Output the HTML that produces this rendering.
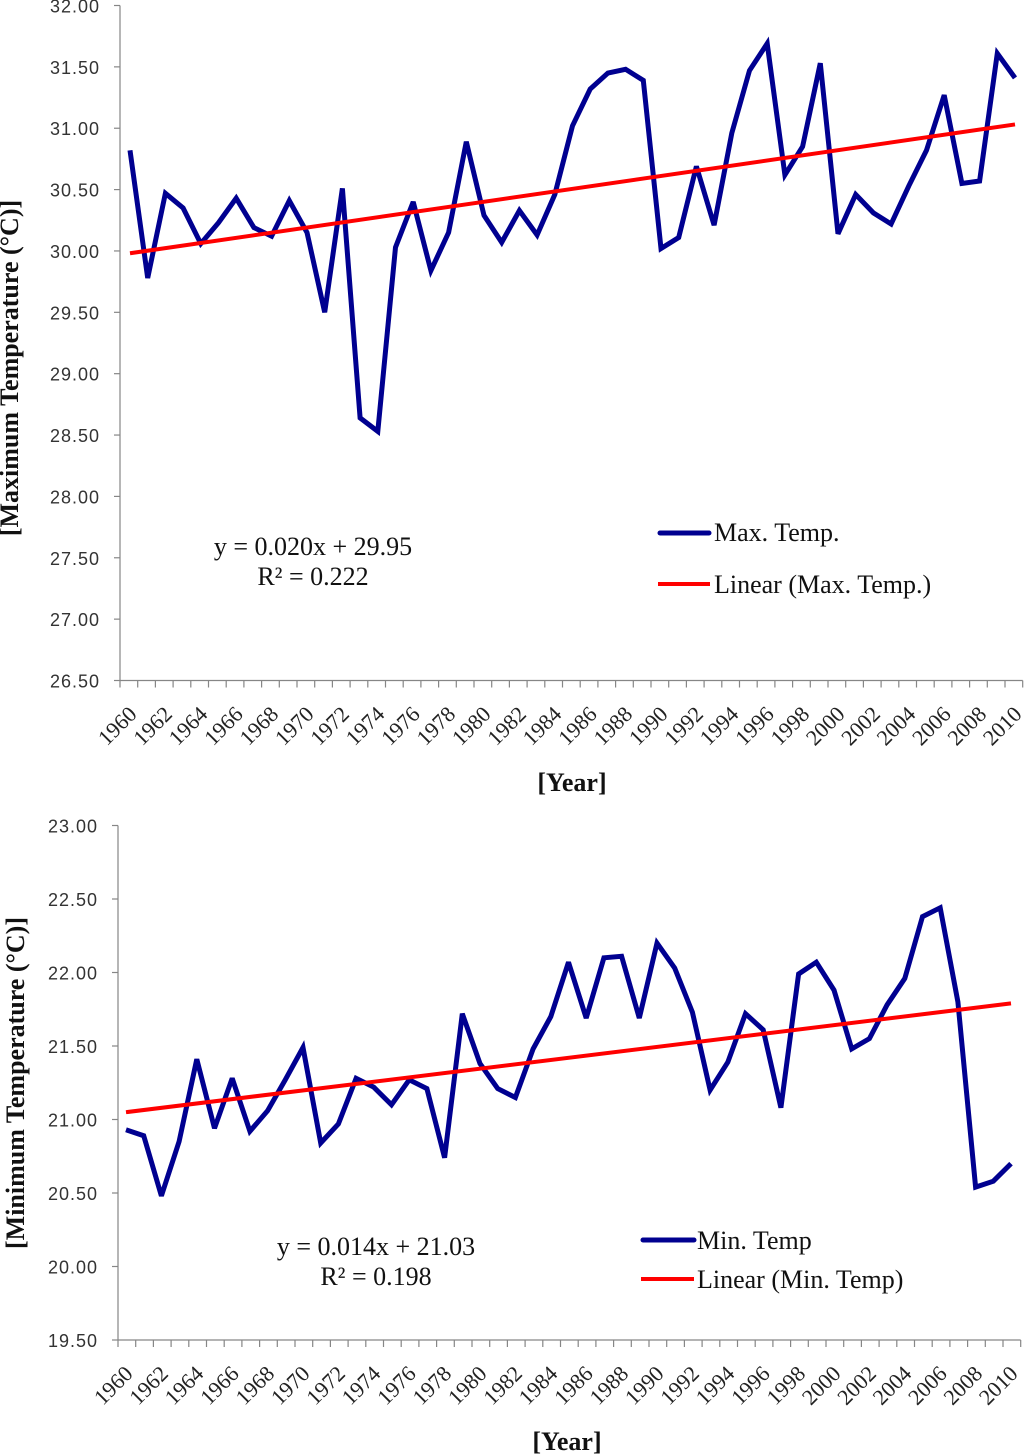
<!DOCTYPE html>
<html>
<head>
<meta charset="utf-8">
<title>Maximum and Minimum Temperature Trends</title>
<style>
html,body{margin:0;padding:0;background:#fff;width:1024px;height:1456px;overflow:hidden}
svg{display:block}
.tick{font-family:"Liberation Sans",sans-serif;font-size:18px;letter-spacing:1px;fill:#333}
.year{font-family:"Liberation Serif",serif;font-size:22px;fill:#222}
.title{font-family:"Liberation Serif",serif;font-size:26px;font-weight:bold;fill:#111}
.note{font-family:"Liberation Serif",serif;font-size:26px;fill:#111}
</style>
</head>
<body>
<svg id="figure" width="1024" height="1456" viewBox="0 0 1024 1456" xmlns="http://www.w3.org/2000/svg">
  <g id="max-chart"></g>
  <g id="min-chart"></g>

  <text class="title" transform="translate(18,368) rotate(-90)" text-anchor="middle">[Maximum Temperature (°C)]</text>
  <text class="title" x="572" y="791" text-anchor="middle">[Year]</text>
  <text class="note" x="313" y="555" text-anchor="middle">y = 0.020x + 29.95</text>
  <text class="note" x="313" y="585" text-anchor="middle">R² = 0.222</text>
  <line x1="660" y1="533" x2="709" y2="533" stroke="#000090" stroke-width="5" stroke-linecap="round"/>
  <text class="note" x="714" y="541">Max. Temp.</text>
  <line x1="658" y1="584" x2="710" y2="584" stroke="#ff0000" stroke-width="4"/>
  <text class="note" x="714" y="593">Linear (Max. Temp.)</text>

  <text class="title" transform="translate(24,1083) rotate(-90)" text-anchor="middle">[Minimum Temperature (°C)]</text>
  <text class="title" x="567" y="1450" text-anchor="middle">[Year]</text>
  <text class="note" x="376" y="1255" text-anchor="middle">y = 0.014x + 21.03</text>
  <text class="note" x="376" y="1285" text-anchor="middle">R² = 0.198</text>
  <line x1="643" y1="1240" x2="694" y2="1240" stroke="#000090" stroke-width="5" stroke-linecap="round"/>
  <text class="note" x="697" y="1249">Min. Temp</text>
  <line x1="641" y1="1279" x2="694" y2="1279" stroke="#ff0000" stroke-width="4"/>
  <text class="note" x="697" y="1288">Linear (Min. Temp)</text>
</svg>
<script>
const years = [1960,1961,1962,1963,1964,1965,1966,1967,1968,1969,1970,1971,1972,1973,1974,1975,1976,1977,1978,1979,1980,1981,1982,1983,1984,1985,1986,1987,1988,1989,1990,1991,1992,1993,1994,1995,1996,1997,1998,1999,2000,2001,2002,2003,2004,2005,2006,2007,2008,2009,2010];
const maxTemps = [30.82,29.78,30.47,30.35,30.06,30.23,30.43,30.19,30.12,30.41,30.15,29.50,30.51,28.64,28.53,30.03,30.40,29.84,30.15,30.89,30.29,30.07,30.33,30.13,30.46,31.02,31.32,31.45,31.48,31.39,30.02,30.11,30.69,30.21,30.96,31.47,31.69,30.62,30.85,31.53,30.14,30.46,30.31,30.22,30.53,30.82,31.27,30.55,30.57,31.61,31.41];
const minTemps = [20.93,20.89,20.48,20.85,21.41,20.94,21.28,20.92,21.06,21.27,21.49,20.84,20.97,21.28,21.22,21.10,21.27,21.21,20.74,21.72,21.38,21.21,21.15,21.48,21.70,22.07,21.69,22.10,22.11,21.69,22.20,22.03,21.73,21.20,21.39,21.72,21.61,21.08,21.99,22.07,21.88,21.48,21.55,21.78,21.96,22.38,22.44,21.80,20.54,20.58,20.70];
const maxTrend = [0.021,29.96];
const minTrend = [0.0148,21.035];
const maxTickValues = [26.5,27,27.5,28,28.5,29,29.5,30,30.5,31,31.5,32];
const minTickValues = [19.5,20,20.5,21,21.5,22,22.5,23];

const NS = 'http://www.w3.org/2000/svg';
function make(parent, tag, attrs, text) {
  const el = document.createElementNS(NS, tag);
  for (const k in attrs) el.setAttribute(k, attrs[k]);
  if (text !== undefined) el.textContent = text;
  parent.appendChild(el);
  return el;
}

function drawChart(root, opts, temps, trend, ticks) {
  const lo = ticks[0], hi = ticks[ticks.length - 1];
  const y = v => opts.bottom + (v - lo) * (opts.top - opts.bottom) / (hi - lo);
  const tickX = i => opts.axisX + i * opts.step;
  const x = i => opts.firstX + i * opts.step;
  const axisColor = '#868686';

  const yAxis = make(root, 'line', {x1: opts.axisX, y1: opts.top, x2: opts.axisX, y2: opts.bottom, stroke: axisColor, 'stroke-width': 1.2});
  
  
  const xAxis = make(root, 'line', {x1: opts.axisX, y1: opts.bottom, x2: tickX(years.length), y2: opts.bottom, stroke: axisColor, 'stroke-width': 1.2});
  
  

  ticks.forEach(v => {
    const mark = make(root, 'line', {x1: opts.axisX - 6, y1: y(v), x2: opts.axisX, y2: y(v), stroke: axisColor, 'stroke-width': 1.2});
    
    
    const label = make(root, 'text', {class: 'tick', x: opts.axisX - 20, y: y(v) + 7, 'text-anchor': 'end'}, v.toFixed(2));
    
    
  });

  for (let i = 0; i <= years.length; i++) {
    const mark = make(root, 'line', {x1: tickX(i), y1: opts.bottom, x2: tickX(i), y2: opts.bottom + 7, stroke: axisColor, 'stroke-width': 1.2});
    
    
  }

  years.forEach((yr, i) => {
    if (i % 2) return;
    const lx = x(i) + 8, ly = opts.bottom + 35;
    const label = make(root, 'text', {class: 'year', transform: 'translate(' + lx + ',' + ly + ') rotate(-45)', 'text-anchor': 'end'}, yr);
    
    
  });

  const series = make(root, 'polyline', {
    points: temps.map((v, i) => x(i).toFixed(1) + ',' + y(v).toFixed(1)).join(' '),
    fill: 'none', stroke: '#000090', 'stroke-width': 5, 'stroke-linejoin': 'miter', 'stroke-miterlimit': 3
  });
  
  

  const last = years.length - 1;
  const trendLine = make(root, 'line', {
    x1: x(0), y1: y(trend[1] + trend[0] * 1),
    x2: x(last), y2: y(trend[1] + trend[0] * (last + 1)),
    stroke: '#ff0000', 'stroke-width': 4
  });
  
  
}

drawChart(document.getElementById('max-chart'), {axisX: 120, firstX: 130, step: 17.7, top: 5.5, bottom: 680.5}, maxTemps, maxTrend, maxTickValues);
drawChart(document.getElementById('min-chart'), {axisX: 118, firstX: 126, step: 17.7, top: 825.5, bottom: 1340}, minTemps, minTrend, minTickValues);
</script>
</body>
</html>
